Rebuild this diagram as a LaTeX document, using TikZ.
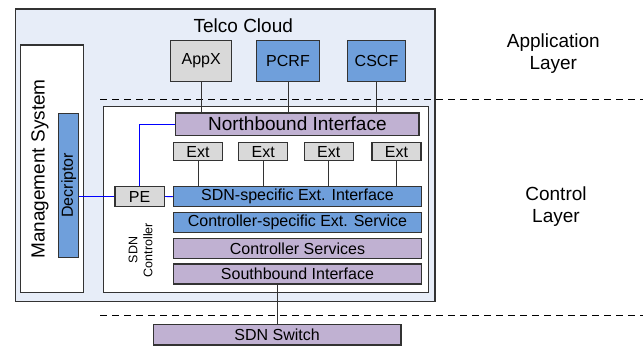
\documentclass[tikz,border=0pt]{standalone}
\usepackage{fontspec}
\setmainfont{Liberation Sans}
\usepackage{tikz}
\usetikzlibrary{positioning}

\definecolor{cloudbg}{HTML}{E7EDF8}
\definecolor{fnblue}{HTML}{6F9FDB}
\definecolor{ifpurple}{HTML}{C0B1D2}
\definecolor{boxgray}{HTML}{D9D9D9}
\definecolor{edge}{HTML}{333333}

\newcommand{\boxfont}{\fontsize{16}{18}\selectfont}
\newcommand{\bigfont}{\fontsize{19}{22}\selectfont}
\newcommand{\smallfont}{\fontsize{12.5}{15}\selectfont}

\begin{document}
\begin{tikzpicture}[x=1pt,y=-1pt]
                \tikzstyle{every node}+=[inner sep=0pt]
                \tikzstyle{blk}=[draw=edge, line width=1.1pt, minimum height=20pt, font=\boxfont]
                \tikzstyle{blue box}=[blk, fill=fnblue]
                \tikzstyle{purple box}=[blk, fill=ifpurple]
                \tikzstyle{gray box}=[blk, fill=boxgray]
                \tikzstyle{link}=[draw=edge, line width=0.9pt]
                \tikzstyle{pelink}=[draw=blue, line width=0.9pt]
                \tikzstyle{layer line}=[black, line width=1pt, dash pattern=on 7pt off 5pt]
                \useasboundingbox (0,0) rectangle (643,349);
                % containers
                \draw [edge, line width=1.1pt, fill=cloudbg] (15.7,9) rectangle (435,301.7);
                \draw [edge, line width=1.1pt, fill=white] (20.7,45) rectangle (83.3,292.7);
                \draw [edge, line width=1.1pt, fill=white] (103.7,106.3) rectangle (428.3,292.7);
                \draw [layer line] (100,99.3) -- (643,99.3);
                \draw [layer line] (100,315.7) -- (643,315.7);
                % texts
                \node (cloud) at (243.3,26) {\bigfont Telco Cloud};
                \node (applayer) [align=center, font=\bigfont] at (553.3,54) {Application\\Layer};
                \node (ctllayer) [align=center, font=\bigfont] at (556,207) {Control\\Layer};
                \node (mgmt) [rotate=90, font=\bigfont] at (40,169) {Management System};
                \node (sdnctl) [rotate=90, align=center, font=\smallfont] at (140.5,250) {SDN\\Controller};
                % application layer
                \node (appx) [gray box, minimum width=61pt, minimum height=40.6pt] at (201.2,61) {AppX};
                \node (pcrf) [blue box, minimum width=62.6pt, minimum height=40.6pt] at (288,61) {PCRF};
                \node (cscf) [blue box, minimum width=58.4pt, minimum height=40.6pt] at (376.5,61) {CSCF};
                % controller
                \node (nbi) [purple box, minimum width=243.3pt, minimum height=22.3pt, font=\bigfont] at (297.35,124.15) {Northbound Interface};
                \node (ext1) [gray box, minimum width=49pt, minimum height=18pt] at (198,151.7) {Ext};
                \node (ext2) [gray box, minimum width=49pt, minimum height=18pt] at (263.3,151.7) {Ext};
                \node (ext3) [gray box, minimum width=49pt, minimum height=18pt] at (328.7,151.7) {Ext};
                \node (ext4) [gray box, minimum width=49pt, minimum height=18pt] at (396.5,151.7) {Ext};
                \node (sdnext) [blue box, minimum width=248.4pt] at (297.5,196.7) {SDN-specific Ext. Interface};
                \node (ctlext) [blue box, minimum width=248.4pt] at (297.5,222.3) {Controller-specific Ext. Service};
                \node (ctlsrv) [purple box, minimum width=248.4pt] at (297.5,248.3) {Controller Services};
                \node (sbi) [purple box, minimum width=248.4pt] at (297.5,274) {Southbound Interface};
                \node (pe) [gray box, minimum width=49.3pt, minimum height=20.4pt] at (139.65,196.5) {PE};
                \node (desc) [blue box, rotate=90, minimum width=144pt, minimum height=20pt] at (68.7,185.3) {Decriptor};
                % data plane
                \node (switch) [purple box, minimum width=247.7pt, minimum height=20.7pt] at (277.15,334.65) {SDN Switch};
                % connectors
                \draw [link] (appx.south) -- (appx.south |- nbi.north);
                \draw [link] (pcrf.south) -- (pcrf.south |- nbi.north);
                \draw [link] (cscf.south) -- (cscf.south |- nbi.north);
                \foreach \e in {ext1,ext2,ext3,ext4}
                    \draw [link] (\e.south) -- (\e.south |- sdnext.north);
                \draw [link] (switch.north) -- (switch.north |- sbi.south);
                \draw [pelink] (nbi.west) -| (pe.north);
                \draw [pelink] (pe.west) -- (pe.west -| desc.south);
                \draw [pelink] (pe.east) -- (sdnext.west);
            \end{tikzpicture}
\end{document}
